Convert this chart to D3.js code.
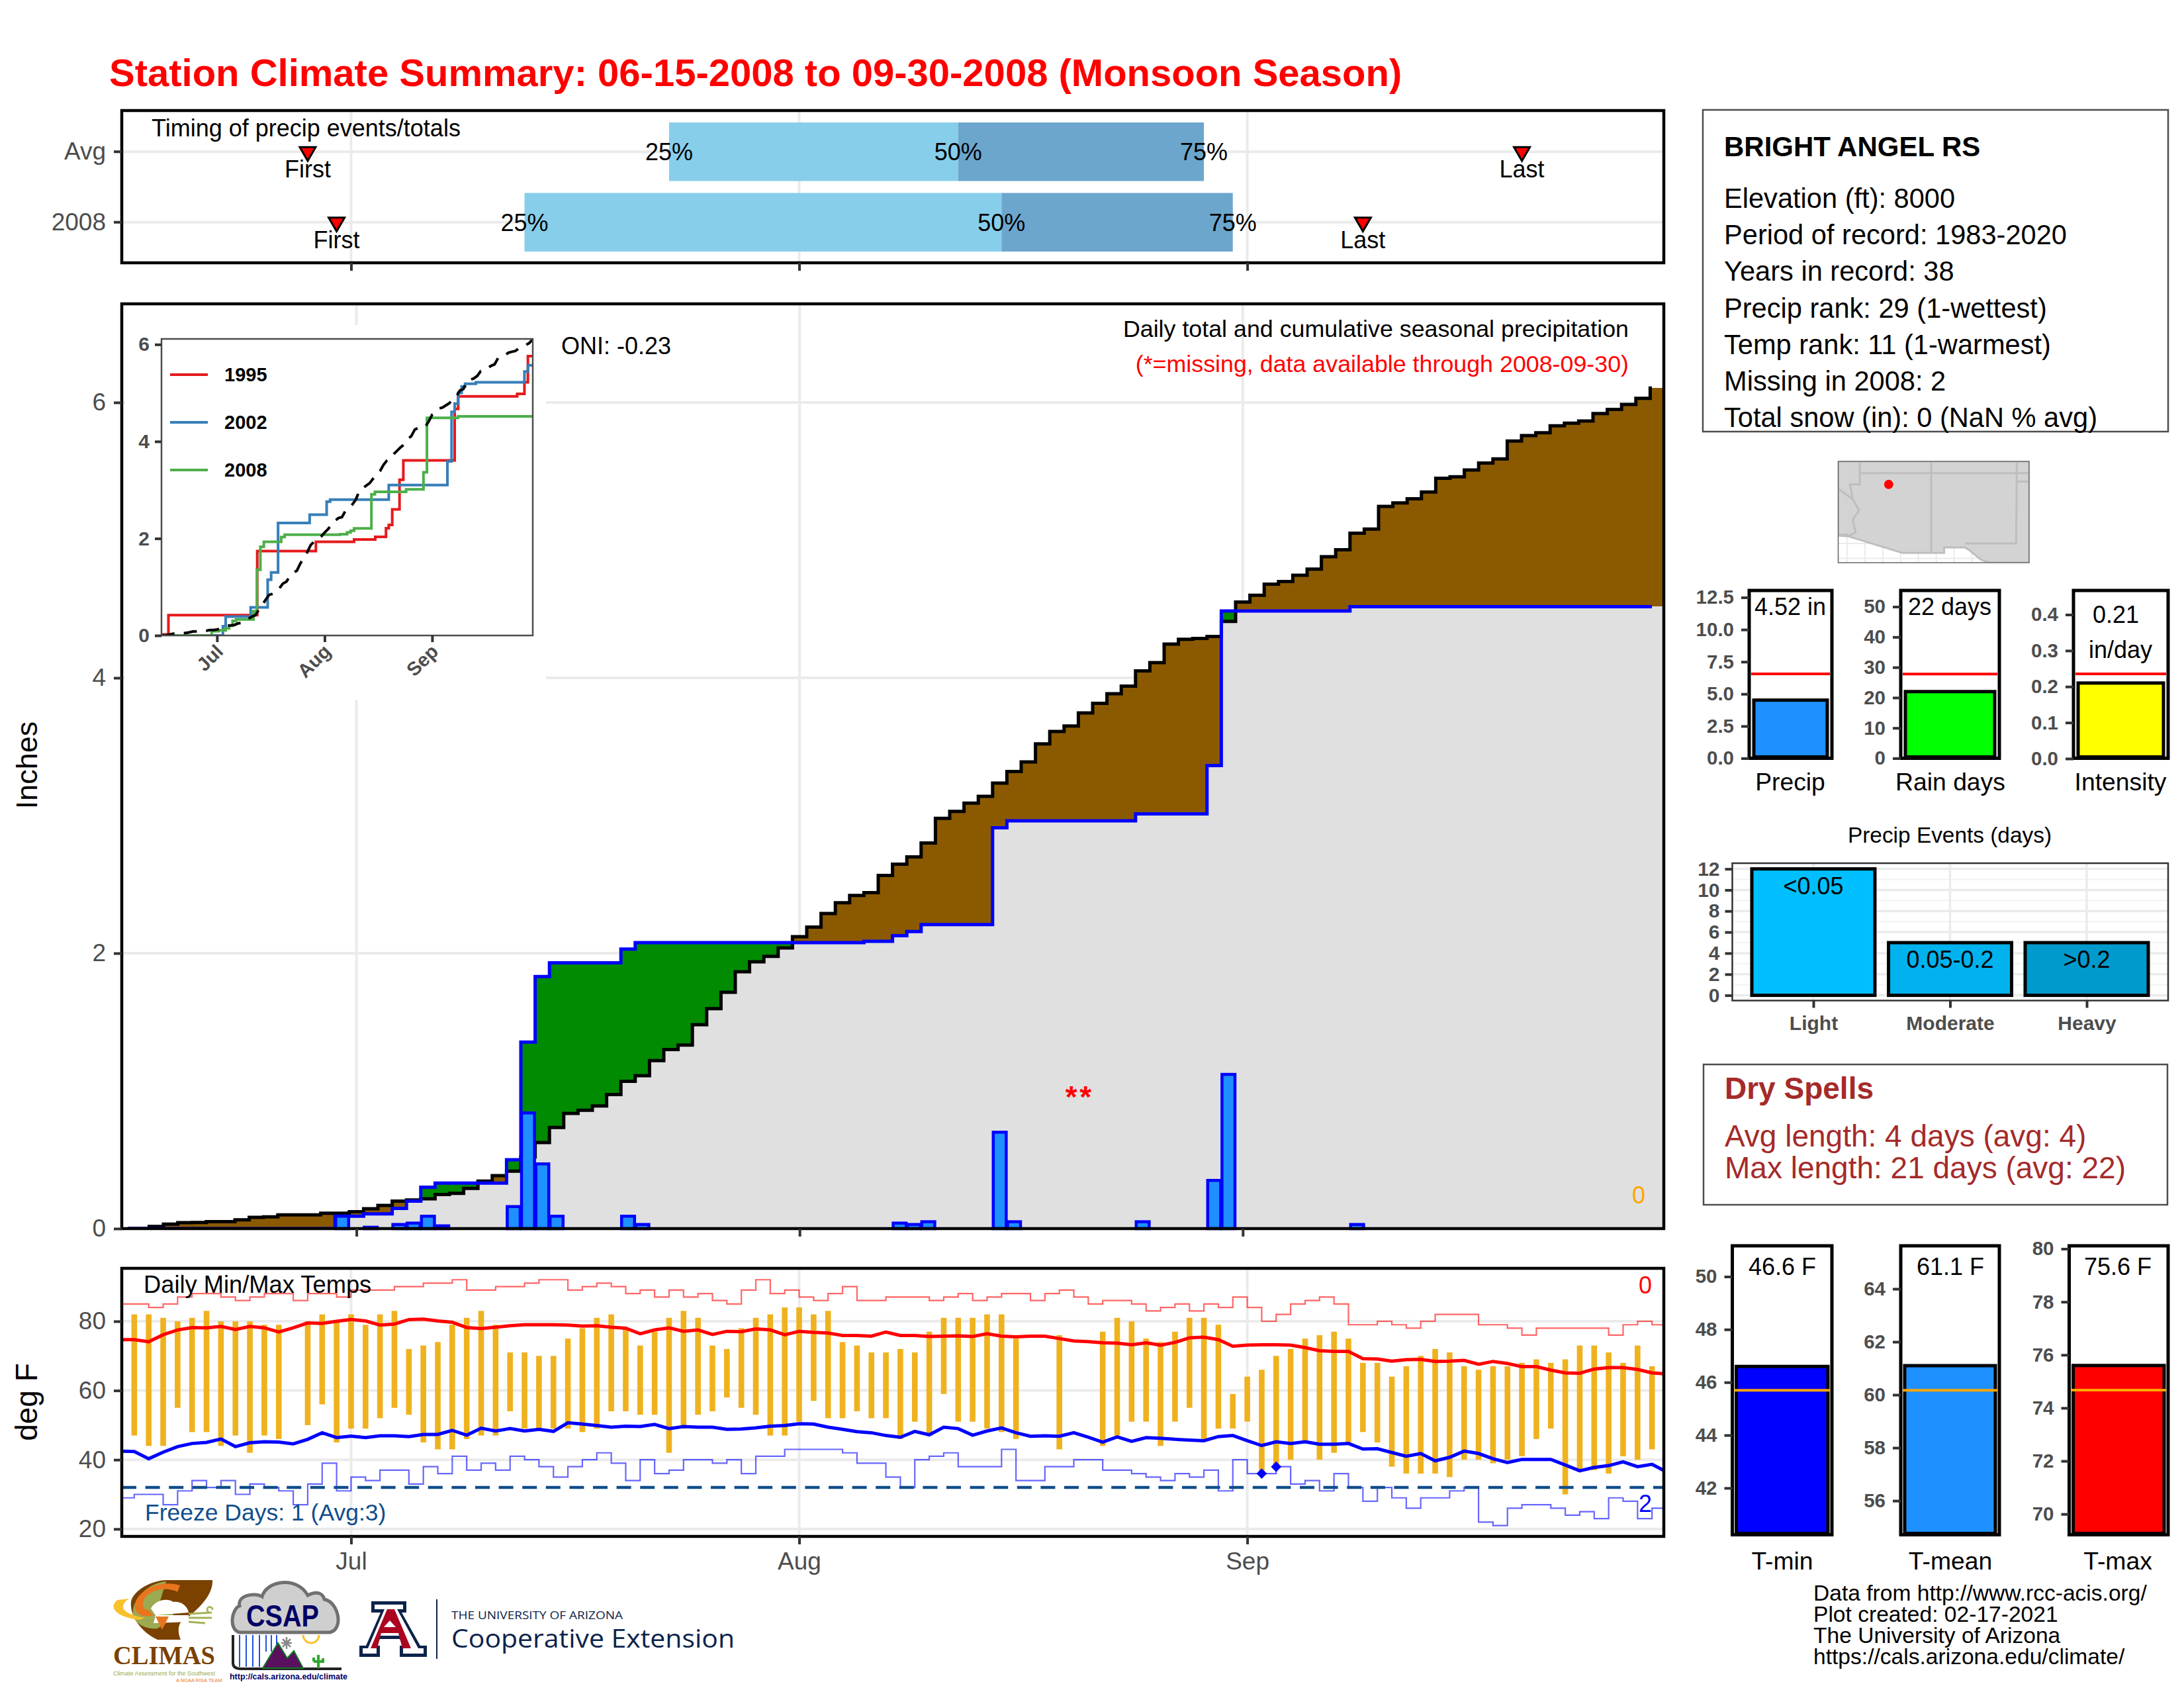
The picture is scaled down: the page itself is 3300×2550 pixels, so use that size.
<!DOCTYPE html>
<html><head><meta charset="utf-8">
<script src="https://cdnjs.cloudflare.com/ajax/libs/d3/7.8.5/d3.min.js"></script>
<style>html,body{margin:0;padding:0;background:#fff}svg{display:block}text{font-family:"Liberation Sans",Arial,sans-serif}</style>
</head><body>
<script>
// ---------- DATA (day index 0 = Jun 15, 16 = Jul 1, 47 = Aug 1, 78 = Sep 1, 107 = Sep 30) ----------
const monthLabels = ["Jul","Aug","Sep"];
const monthIdx = [16,47,78];
const cumAvg = [0,0,.016,.032,.043,.045,.05,.05,.064,.082,.085,.10,.10,.10,.112,.112,.123,.144,.168,.20,.208,.216,.248,.256,.292,.345,.385,.417,.52,.625,.734,.837,.859,.891,.974,1.07,1.11,1.22,1.30,1.333,1.481,1.597,1.716,1.865,1.937,1.977,2.038,2.12,2.19,2.288,2.366,2.42,2.44,2.565,2.647,2.70,2.80,2.98,3.03,3.09,3.14,3.235,3.32,3.39,3.52,3.61,3.65,3.745,3.815,3.885,3.94,4.05,4.11,4.245,4.28,4.286,4.30,4.41,4.55,4.60,4.68,4.70,4.745,4.79,4.88,4.93,5.05,5.08,5.245,5.27,5.30,5.35,5.45,5.46,5.51,5.56,5.59,5.72,5.76,5.78,5.83,5.85,5.865,5.92,5.95,5.985,6.03,6.105];
const cum2008 = [0,0,0,0,0,0,0,0,0,0,0,0,0,0,0,.09,.09,.107,.107,.147,.20,.30,.33,.33,.33,.33,.33,.50,1.354,1.83,1.93,1.93,1.93,1.93,1.93,2.03,2.077,2.077,2.077,2.077,2.077,2.077,2.077,2.077,2.077,2.077,2.077,2.077,2.077,2.077,2.077,2.077,2.087,2.087,2.127,2.158,2.208,2.208,2.208,2.208,2.208,2.911,2.962,2.962,2.962,2.962,2.962,2.962,2.962,2.962,2.962,3.012,3.012,3.012,3.012,3.012,3.363,4.485,4.485,4.485,4.485,4.485,4.485,4.485,4.485,4.485,4.517,4.517,4.517,4.517,4.517,4.517,4.517,4.517,4.517,4.517,4.517,4.517,4.517,4.517,4.517,4.517,4.517,4.517,4.517,4.517,4.517,4.517];
const rainDays = [15,17,19,20,21,22,27,28,29,30,35,36,54,55,56,61,62,71,76,77,86];
const rainVals = [.09,.01,.03,.04,.09,.02,.16,.84,.47,.09,.09,.03,.04,.03,.05,.70,.05,.05,.35,1.12,.03];
const missingDays = [66,67];
const inset1995Days = [0,1,2,27.6,44.5,55.5,61.6,64.7,65.5,66.5,68.6,69.7,84.5,85.5,102.5,104.6,105.6,107];
const inset1995Vals = [.02,.02,.42,1.74,1.93,1.98,2.035,2.21,2.28,2.6,3.21,3.61,4.67,4.93,4.98,5.22,5.76,5.76];
const inset2002Days = [0,17.7,18.5,25.7,30.6,31.6,33.6,42.7,47.6,48.6,65.5,82.4,83.6,84.5,85.5,86.5,87.5,90.6,104.6,105.6,107];
const inset2002Vals = [0,.19,.39,.58,1.15,1.30,2.32,2.49,2.76,2.8,3.10,3.59,4.61,4.78,5.0,5.13,5.19,5.22,5.44,5.57,5.57];
const legendYears = ["1995","2002","2008"];
const tmaxObs = [null,82,82,81,80,81,83,80,80,80, 79,79,null,80,82,80,82,79,82,83, 72,73,74,79,81,83,79,71,71,70, 70,75,78,81,82,78,73,77,81,83, 81,73,72,78,81,82,84,84,82,83, 74,73,71,71,72,71,77,81,81,81, 82,82,75,null,null,76,null,null,77,81, 80,75,74,77,81,81,79,59,64,66, 70,72,75,76,77,75,68,68,64,67, 70,72,71,67,66,67,67,68,69,68, 69,73,73,71,68,73,67,null];
const tminObs = [null,47,44,44,55,48,48,44,47,42, 47,46,null,50,56,45,49,49,52,55, 53,45,43,43,46,47,47,54,49,49, 49,49,48,49,54,54,53,53,42,49, 53,54,58,55,53,47,47,51,57,52, 52,54,52,52,46,51,47,59,51,51, 49,48,46,null,null,43,null,null,44,47, 51,51,44,51,55,46,49,49,51,36, 38,40,45,40,42,45,48,45,38,36, 36,36,35,40,40,39,40,41,46,49, 30,37,37,36,41,40,43,null];
const recHigh = [85,85,84,85,87,88,88,87,86,87, 88,88,86,88,88,87,89,89,89,90, 90,91,91,92,89,89,90,90,91,92, 92,89,90,91,90,88,89,87,89,87, 88,86,85,89,92,88,89,87,86,88, 90,86,86,87,87,87,86,87,88,86, 87,88,88,86,88,89,87,85,86,86, 85,83,84,85,83,85,84,87,84,80, 82,85,86,87,85,79,79,80,79,78, 80,82,82,82,79,79,78,76,78,78, 78,78,78,76,79,80,79,79];
const recLow = [29,30,30,27,31,34,32,34,30,33, 32,31,27,33,39,31,35,34,37,37, 33,38,36,41,37,39,37,41,40,38, 35,38,40,42,39,34,40,36,37,40, 40,39,40,36,41,41,43,43,43,43, 42,39,39,35,32,40,41,42,38,38, 38,43,34,34,38,38,40,40,37,37, 36,35,34,36,35,37,31,40,36,36, 38,33,34,31,36,32,28,32,29,26, 29,29,31,32,22,21,26,27,27,26, 24,25,23,29,28,23,26,26];
const avgHigh = [74.7,74.7,74.1,76.1,77.5,78.2,78.1,78.5,77.6,78.5, 78.1,76.9,78.1,79.5,79.4,80,80.5,80.1,78.9,79.2, 80.5,80.6,80.1,79.7,78.2,77.9,78.3,78.7,79,79, 79,78.9,78.6,78.7,78.3,78,76.4,77.5,78.1,77.1, 77.5,76.2,77.1,77,77.8,77.5,76.1,77.1,76.8,76.6, 75.9,75.9,75.7,76.9,75.9,75.9,75.6,75.7,75.8,75.6, 76.4,75.7,75.5,75.7,75.7,75,74.3,74.1,73.8,73.7, 73.2,73.8,73.1,73.9,75.2,75.4,74.7,72.8,73.1,73.2, 73.2,73.1,72.4,71.5,71.3,71.3,69.2,69.1,68.5,68.9, 69,68.4,68.5,68.7,67.6,68.4,67.8,66.9,66.9,65.9, 65.1,65,66.2,66.6,66.6,66.1,65.1,64.8];
const avgLow = [42.5,42.4,40.3,42.2,43.8,44.7,45,46,43.8,44.9, 45.2,45.1,44.6,45.9,47.8,46.4,46.8,46.4,46.9,46.9, 46.7,47.3,47.3,48.5,47.1,49.1,48.3,49,48.3,48.8, 48.2,50.7,50.3,49.9,49.4,49.7,49.6,50.2,49,49.6, 49.4,49.4,48.8,48.9,49.2,49.7,49.9,50.4,50.3,49.4, 48.8,48.1,47.8,47,46.5,48.2,47.2,49.4,49,47.1, 48.3,49.2,47.8,46.8,46.9,46.8,47.8,46.5,45.1,46.6, 45.3,46.4,46.2,45.9,45.7,45.5,46.7,47,45.5,44.1, 45.2,44.7,45.2,44.5,44.5,44.7,43.1,43.2,42.1,41, 41.8,39.7,40.7,42.5,41.8,40.3,39.2,40.1,40.1,40.1, 38.5,36.8,37.8,38.3,39.4,38,38.7,36.5];
const freezeDays = [79,80];
const freezeVals = [36,38];
const timingRows = ["Avg","2008"];
const timingQuart = [[38,58,75],[28,61,77]];
const timingFirst = [13,15];
const timingLast = [97,86];
const quartLabels = ["25%","50%","75%"];
const infoLines = ["Elevation (ft): 8000","Period of record: 1983-2020","Years in record: 38","Precip rank: 29 (1-wettest)","Temp rank: 11 (1-warmest)","Missing in 2008: 2","Total snow (in): 0 (NaN % avg)"];
const eventCats = ["Light","Moderate","Heavy"];
const eventVals = [12,5,5];
const eventText = ["<0.05","0.05-0.2",">0.2"];
const eventColors = ["#00BFFF","#00B2EE","#009ACD"];
const footerLines = ["Data from http://www.rcc-acis.org/","Plot created: 02-17-2021","The University of Arizona","https://cals.arizona.edu/climate/"];
// map outline, lon/lat
const landLon = [-115.63,-102.13,-102.13,-104.97,-105.54,-106.33,-106.67,-108.14,-108.14,-111.09,-114.9,-115.63];
const landLat = [37.84,37.84,30.64,30.64,30.85,31.51,31.72,31.72,31.33,31.33,32.51,32.57];
const borderLon = [[-109.05,-109.05],[-114.1,-102.13],[-103.0,-103.05,-106.67],[-103,-102.13],[-114.1,-114.1,-114.8,-114.6,-114.15,-114.6,-114.4,-114.9],[-115.63,-114.6],[-115.63,-114.9]];
const borderLat = [[37.84,31.33],[37,37],[37.84,32,32],[36.4,36.4],[37.84,36.2,36.2,35.15,34.35,33.7,32.8,32.51],[35.9,35.15],[32.6,32.65]];
const stationLonLat = [-112.06,36.2];

// ---------- SETUP ----------
const W=3300,H=2550, GRID="#EBEBEB", TICK="#333333", TXT="#4D4D4D";
const svg=d3.select("body").append("svg").attr("width",W).attr("height",H).attr("viewBox",`0 0 ${W} ${H}`);
svg.append("rect").attr("width",W).attr("height",H).attr("fill","#fff");
const defs=svg.append("defs");
let clipN=0;
function clip(x,y,w,h){const id="c"+(++clipN);defs.append("clipPath").attr("id",id).append("rect").attr("x",x).attr("y",y).attr("width",w).attr("height",h);return `url(#${id})`;}
function T(g,x,y,s,o={}){const t=g.append("text").attr("x",x).attr("y",y).text(s).attr("font-size",o.size||35).attr("fill",o.fill||"#000").attr("text-anchor",o.anchor||"start");
  if(o.bold)t.attr("font-weight","bold"); if(o.rot!=null)t.attr("transform",`rotate(${o.rot} ${x} ${y})`); if(o.family)t.style("font-family",o.family); return t;}
function styleAxis(g,size,bold,tw){g.select(".domain").remove();g.selectAll(".tick line").attr("stroke",TICK).attr("stroke-width",tw||4);
  g.selectAll(".tick text").attr("fill",TXT).attr("font-size",size).attr("font-weight",bold?"bold":"normal");}
function hline(g,y,x0,x1,c,w){return g.append("line").attr("x1",x0).attr("x2",x1).attr("y1",y).attr("y2",y).attr("stroke",c).attr("stroke-width",w);}
function vline(g,x,y0,y1,c,w){return g.append("line").attr("x1",x).attr("x2",x).attr("y1",y0).attr("y2",y1).attr("stroke",c).attr("stroke-width",w);}
function frame(g,x0,y0,x1,y1,c,w){g.append("rect").attr("x",x0).attr("y",y0).attr("width",x1-x0).attr("height",y1-y0).attr("fill","none").attr("stroke",c).attr("stroke-width",w);}
const L=184,R=2514;

// ---------- TITLE ----------
T(svg,165,130,"Station Climate Summary: 06-15-2008 to 09-30-2008 (Monsoon Season)",{size:58,bold:true,fill:"#FF0000"});

// ---------- TIMING PANEL ----------
{
 const top=167,bot=397;
 const x=d3.scaleLinear().domain([0,107]).range([181,2518]);
 const y=d3.scaleBand().domain(timingRows).range([185,380]).paddingInner(.169).paddingOuter(0);
 const g=svg.append("g");
 const rowC=d=>y(d)+y.bandwidth()/2;
 monthIdx.forEach(i=>vline(g,x(i),top,bot,GRID,4));
 timingRows.forEach(r=>hline(g,rowC(r),L,R,GRID,4));
 timingRows.forEach((r,k)=>{
   const q=timingQuart[k], yy=y(r);
   g.append("rect").attr("x",x(q[0])).attr("y",yy).attr("width",x(q[1])-x(q[0])).attr("height",y.bandwidth()).attr("fill","#87CEEB");
   g.append("rect").attr("x",x(q[1])).attr("y",yy).attr("width",x(q[2])-x(q[1])).attr("height",y.bandwidth()).attr("fill","#6CA6CD");
   q.forEach((v,j)=>T(g,x(v),rowC(r)+13,quartLabels[j],{size:36,anchor:"middle"}));
   [timingFirst[k],timingLast[k]].forEach((d,j)=>{
     g.append("path").attr("d",d3.symbol(d3.symbolTriangle,250)()).attr("transform",`translate(${x(d)},${rowC(r)}) rotate(180)`).attr("fill","#FF0000").attr("stroke","#000").attr("stroke-width",3);
     T(g,x(d),rowC(r)+39,j?"Last":"First",{size:36,anchor:"middle"});
   });
 });
 T(g,229,206,"Timing of precip events/totals",{size:36});
 frame(g,L,top,R,bot,"#000",4.5);
 const ax=svg.append("g").attr("transform",`translate(${L},0)`).call(d3.axisLeft(y).tickSize(12).tickPadding(12));
 styleAxis(ax,37);
 const bx=svg.append("g").attr("transform",`translate(0,${bot})`).call(d3.axisBottom(x).tickValues(monthIdx).tickSize(12).tickFormat(""));
 styleAxis(bx,37);
}

// ---------- MAIN PRECIP PANEL ----------
{
 const top=459,bot=1856;
 const x=d3.scaleLinear().domain([0,107]).range([193,2504.2]);
 const y=d3.scaleLinear().domain([0,(bot-top)/208]).range([bot,top]);
 const g=svg.append("g");
 monthIdx.forEach(i=>vline(g,x(i),top,bot,GRID,4));
 [0,2,4,6].forEach(v=>hline(g,y(v),L,R,GRID,4));
 const cp=clip(L,top,R-L,bot-top);
 const days=d3.range(108);
 const fills=g.append("g").attr("clip-path",cp).attr("shape-rendering","crispEdges");
 const dw=x(1)-x(0);
 fills.selectAll(".gr").data(days).join("rect").attr("x",i=>x(i)-dw/2).attr("width",dw+.5)
   .attr("y",i=>y(Math.min(cum2008[i],cumAvg[i]))).attr("height",i=>bot-y(Math.min(cum2008[i],cumAvg[i]))).attr("fill","#E0E0E0");
 fills.selectAll(".df").data(days).join("rect").attr("x",i=>x(i)-dw/2).attr("width",dw+.5)
   .attr("y",i=>y(Math.max(cum2008[i],cumAvg[i]))).attr("height",i=>Math.abs(y(cum2008[i])-y(cumAvg[i])))
   .attr("fill",i=>cum2008[i]>cumAvg[i]?"#008B00":"#8B5A00");
 const line=d3.line().x(i=>x(i)).curve(d3.curveStep);
 const lc=clip(L,top,x(106.5)+2.5-L,bot-top);
 g.append("path").attr("clip-path",lc).attr("d",line.y(i=>y(cumAvg[i]))(days)).attr("fill","none").attr("stroke","#000").attr("stroke-width",5);
 g.append("path").attr("clip-path",lc).attr("d",line.y(i=>y(cum2008[i]))(days)).attr("fill","none").attr("stroke","#0000FF").attr("stroke-width",5);
 g.selectAll(".bar").data(rainDays).join("rect").attr("x",d=>x(d)-dw/2+1).attr("width",dw-2)
   .attr("y",(d,k)=>y(rainVals[k])).attr("height",(d,k)=>bot-y(rainVals[k])).attr("fill","#1E90FF").attr("stroke","#0000FF").attr("stroke-width",4.5);
 missingDays.forEach(d=>T(g,x(d),y(1)+25,"*",{size:46,fill:"#FF0000",anchor:"middle",bold:true}));
 T(g,2476,1818,"0",{size:36,fill:"#FFA500",anchor:"middle"});
 T(g,848,535,"ONI: -0.23",{size:36});
 T(g,2461,509,"Daily total and cumulative seasonal precipitation",{size:35.8,anchor:"end"});
 T(g,2461,562,"(*=missing, data available through 2008-09-30)",{size:35.8,anchor:"end",fill:"#FF0000"});
 frame(g,L,top,R,bot,"#000",4.5);
 const ax=svg.append("g").attr("transform",`translate(${L},0)`).call(d3.axisLeft(y).tickValues([0,2,4,6]).tickSize(12).tickPadding(12).tickFormat(d3.format("d")));
 styleAxis(ax,37);
 const bx=svg.append("g").attr("transform",`translate(0,${bot})`).call(d3.axisBottom(x).tickValues(monthIdx).tickSize(12).tickFormat(""));
 styleAxis(bx,37);
 T(svg,56,1156,"Inches",{size:45,anchor:"middle",rot:-90});

 // inset
 const ig=svg.append("g");
 ig.append("rect").attr("x",189).attr("y",491).attr("width",636).attr("height",566).attr("fill","#fff");
 const ix=d3.scaleLinear().domain([0,107]).range([244,805]);
 const iy=d3.scaleLinear().domain([0,6.1]).range([960,513]);
 const icp=clip(244,512,561,448);
 const after=d3.line().curve(d3.curveStepAfter);
 const mk=(ds,vs)=>after(ds.map((d,k)=>[ix(d),iy(vs[k])]));
 ig.append("path").attr("clip-path",icp).attr("d",mk(inset1995Days,inset1995Vals)).attr("fill","none").attr("stroke","#E41A1C").attr("stroke-width",4);
 ig.append("path").attr("clip-path",icp).attr("d",mk(inset2002Days,inset2002Vals)).attr("fill","none").attr("stroke","#377EB8").attr("stroke-width",4);
 ig.append("path").attr("clip-path",icp).attr("d",d3.line().x(i=>ix(i)).y(i=>iy(cum2008[i])).curve(d3.curveStep)(days)).attr("fill","none").attr("stroke","#4DAF4A").attr("stroke-width",4);
 ig.append("path").attr("clip-path",icp).attr("d",d3.line().x(i=>ix(i)).y(i=>iy(cumAvg[i]))(days)).attr("fill","none").attr("stroke","#000").attr("stroke-width",4).attr("stroke-dasharray","20,14");
 frame(ig,244,512,805,960,"#4D4D4D",2.5);
 const lc2=["#E41A1C","#377EB8","#4DAF4A"], ly=[566,638,710];
 legendYears.forEach((t,k)=>{hline(ig,ly[k],257,314,lc2[k],4);T(ig,339,ly[k]+10,t,{size:29,bold:true});});
 const iax=ig.append("g").attr("transform","translate(244,0)").call(d3.axisLeft(iy).tickValues([0,2,4,6]).tickSize(10).tickPadding(8).tickFormat(d3.format("d")));
 styleAxis(iax,30,true);
 const ibx=ig.append("g").attr("transform","translate(0,960)").call(d3.axisBottom(ix).tickValues(monthIdx).tickSize(10).tickFormat(""));
 styleAxis(ibx,30,true);
 monthIdx.forEach((m,k)=>T(ig,ix(m)+11,986,monthLabels[k],{size:29,bold:true,fill:TXT,anchor:"end",rot:-45}));
}

// ---------- TEMPERATURE PANEL ----------
{
 const top=1916,bot=2321;
 const x=d3.scaleLinear().domain([0,107]).range([181,2518]);
 const y=d3.scaleLinear().domain([80-(bot-1996)/5.23,80+(1996-top)/5.23]).range([bot,top]);
 const g=svg.append("g");
 monthIdx.forEach(i=>vline(g,x(i),top,bot,GRID,4));
 [20,40,60,80].forEach(v=>hline(g,y(v),L,R,GRID,4));
 const cp=clip(L,top,R-L,bot-top);
 const days=d3.range(108), cl=g.append("g").attr("clip-path",cp);
 const after=d3.line().x(i=>x(i)).curve(d3.curveStepAfter);
 cl.append("path").attr("d",after.y(i=>y(recHigh[i]))(days)).attr("fill","none").attr("stroke","#FF0000").attr("stroke-opacity",.6).attr("stroke-width",2.2);
 cl.append("path").attr("d",after.y(i=>y(recLow[i]))(days)).attr("fill","none").attr("stroke","#0000FF").attr("stroke-opacity",.6).attr("stroke-width",2.2);
 const barDays=days.filter(i=>tmaxObs[i]!=null);
 cl.selectAll(".tb").data(barDays).join("rect").attr("x",i=>x(i)-4.3).attr("width",8.6).attr("y",i=>y(tmaxObs[i])).attr("height",i=>y(tminObs[i])-y(tmaxObs[i])).attr("fill","#EFB21F");
 hline(cl,y(32),L,R,"#104E8B",4.5).attr("stroke-dasharray","22,13.6");
 const ln=d3.line().x(i=>x(i));
 cl.append("path").attr("d",ln.y(i=>y(avgHigh[i]))(days)).attr("fill","none").attr("stroke","#FF0000").attr("stroke-width",5);
 cl.append("path").attr("d",ln.y(i=>y(avgLow[i]))(days)).attr("fill","none").attr("stroke","#0000FF").attr("stroke-width",5);
 cl.selectAll(".fd").data(freezeDays).join("path").attr("d",d3.symbol(d3.symbolDiamond,150)()).attr("transform",(d,k)=>`translate(${x(d)},${y(freezeVals[k])}) scale(1.2,.7)`).attr("fill","#0000FF");
 T(g,217,1953,"Daily Min/Max Temps",{size:36.3});
 T(g,219,2297,"Freeze Days: 1 (Avg:3)",{size:35.5,fill:"#104E8B"});
 T(g,2486,1954,"0",{size:36,fill:"#FF0000",anchor:"middle"});
 T(g,2486,2284,"2",{size:36,fill:"#0000FF",anchor:"middle"});
 frame(g,L,top,R,bot,"#000",4.5);
 const ax=svg.append("g").attr("transform",`translate(${L},0)`).call(d3.axisLeft(y).tickValues([20,40,60,80]).tickSize(12).tickPadding(12));
 styleAxis(ax,37);
 const bx=svg.append("g").attr("transform",`translate(0,${bot})`).call(d3.axisBottom(x).tickValues(monthIdx).tickSize(12).tickPadding(12).tickFormat((d,k)=>monthLabels[k]));
 styleAxis(bx,37);
 T(svg,56,2118,"deg F",{size:46,anchor:"middle",rot:-90});
}

// ---------- INFO BOX ----------
{
 const g=svg.append("g");
 g.append("rect").attr("x",2573).attr("y",166).attr("width",703).attr("height",486).attr("fill","#fff").attr("stroke","#4D4D4D").attr("stroke-width",2.5);
 T(g,2605,236,"BRIGHT ANGEL RS",{size:42,bold:true});
 infoLines.forEach((s,k)=>T(g,2605,314+k*55.2,s,{size:41.6}));
}

// ---------- MAP ----------
{
 const g=svg.append("g"), x0=2777.5,x1=3066,y0=697,y1=850;
 const mx=d3.scaleLinear().domain([-115.63,-102.13]).range([x0,x1]);
 const my=d3.scaleLinear().domain([37.84,30.64]).range([y0,y1]);
 const cp=clip(x0,y0,x1-x0,y1-y0);
 const m=g.append("g").attr("clip-path",cp);
 m.append("rect").attr("x",x0).attr("y",y0).attr("width",x1-x0).attr("height",y1-y0).attr("fill","#fff");
 d3.range(-115.0,-102,1.26).forEach(l=>vline(m,mx(l),y0,y1,"#EBEBEB",2));
 [30.95,32.0].forEach(l=>hline(m,my(l),x0,x1,"#EBEBEB",2));
 m.append("path").attr("d",d3.line()(landLon.map((l,k)=>[mx(l),my(landLat[k])]))+"Z").attr("fill","#D3D3D3").attr("stroke","#BEBEBE").attr("stroke-width",3);
 borderLon.forEach((b,k)=>m.append("path").attr("d",d3.line()(b.map((l,j)=>[mx(l),my(borderLat[k][j])]))).attr("fill","none").attr("stroke","#BEBEBE").attr("stroke-width",3));
 g.append("circle").attr("cx",mx(stationLonLat[0])).attr("cy",my(stationLonLat[1])).attr("r",7).attr("fill","#FF0000");
 frame(g,x0,y0,x1,y1,"#666",1.5);
}

// ---------- SMALL BAR PANELS ----------
function smallBar(o){
 const g=svg.append("g");
 const y=d3.scaleLinear().domain(o.domain).range(o.range.map(v=>v+1.5));
 const top=o.top+1,bot=o.bot+1.5;
 g.append("rect").attr("x",o.x0).attr("y",top).attr("width",o.x1-o.x0).attr("height",bot-top).attr("fill","#fff");
 g.append("rect").attr("x",o.x0+o.inset).attr("y",y(o.value)).attr("width",o.x1-o.x0-2*o.inset).attr("height",bot-y(o.value)-2).attr("fill",o.fill).attr("stroke","#000").attr("stroke-width",o.bw||5);
 frame(g,o.x0,top,o.x1,bot,"#000",5);
 hline(g,y(o.ref),o.x0+3,o.x1-3,o.refColor,4);
 const a=g.append("g").attr("transform",`translate(${o.x0},0)`).call(d3.axisLeft(y).tickValues(o.ticks).tickSize(12).tickPadding(11).tickFormat(o.fmt));
 styleAxis(a,29.5,true);
 o.texts.forEach(t=>T(g,t[0],t[1]+2,t[2],{size:36,anchor:"middle"}));
 T(g,o.labelX,o.labelY,o.label,{size:37.3,anchor:"middle"});
}
const barTop=891,barBot=1144;
smallBar({x0:2643,x1:2768,top:barTop,bot:barBot,inset:7,domain:[0,12.5],range:[1144,901],value:4.52,ref:6.56,refColor:"#FF0000",fill:"#1E90FF",ticks:[0,2.5,5,7.5,10,12.5],fmt:d3.format(".1f"),texts:[[2705,927,"4.52 in"]],labelX:2705,labelY:1194,label:"Precip"});
smallBar({x0:2872,x1:3021,top:barTop,bot:barBot,inset:7,domain:[0,50],range:[1144,915],value:22,ref:27.8,refColor:"#FF0000",fill:"#00FF00",ticks:[0,10,20,30,40,50],fmt:d3.format("d"),texts:[[2946,927,"22 days"]],labelX:2947,labelY:1194,label:"Rain days"});
smallBar({x0:3133,x1:3276,top:barTop,bot:barBot,inset:7,domain:[0,.4],range:[1144.5,927],value:.21,ref:.2355,refColor:"#FF0000",fill:"#FFFF00",ticks:[0,.1,.2,.3,.4],fmt:d3.format(".1f"),texts:[[3197,939,"0.21"],[3204,992,"in/day"]],labelX:3204,labelY:1194,label:"Intensity"});
const tTop=1881,tBot=2317;
smallBar({x0:2617.5,x1:2768,top:tTop,bot:tBot,inset:6,domain:[42,50],range:[2246.4,1927],value:46.6,ref:45.7,refColor:"#FFA500",fill:"#0000FF",ticks:[42,44,46,48,50],fmt:d3.format("d"),texts:[[2693,1924,"46.6 F"]],labelX:2693,labelY:2371,label:"T-min"});
smallBar({x0:2872,x1:3021,top:tTop,bot:tBot,inset:6,domain:[56,64],range:[2265.6,1945.5],value:61.1,ref:60.17,refColor:"#FFA500",fill:"#1E90FF",ticks:[56,58,60,62,64],fmt:d3.format("d"),texts:[[2947,1924,"61.1 F"]],labelX:2947,labelY:2371,label:"T-mean"});
smallBar({x0:3126.5,x1:3276,top:tTop,bot:tBot,inset:6,domain:[70,80],range:[2285.7,1885],value:75.6,ref:74.67,refColor:"#FFA500",fill:"#FF0000",ticks:[70,72,74,76,78,80],fmt:d3.format("d"),texts:[[3200,1924,"75.6 F"]],labelX:3200,labelY:2371,label:"T-max"});

// ---------- PRECIP EVENTS ----------
{
 const g=svg.append("g"), l=2617.5,r=3276,top=1304,bot=1511.5;
 const y=d3.scaleLinear().domain([0,12]).range([1503.6,1312.6]);
 const x=d3.scalePoint().domain(eventCats).range([2740,3153]);
 d3.range(1,13,2).forEach(v=>hline(g,y(v),l,r,"#F2F2F2",2));
 d3.range(0,13,2).forEach(v=>hline(g,y(v),l,r,GRID,3.5));
 eventCats.forEach(c=>vline(g,x(c),top,bot,GRID,3.5));
 eventCats.forEach((c,k)=>{
   g.append("rect").attr("x",x(c)-93).attr("y",y(eventVals[k])).attr("width",186).attr("height",y(0)-y(eventVals[k])).attr("fill",eventColors[k]).attr("stroke","#000").attr("stroke-width",5);
   T(g,x(c),y(eventVals[k])+38,eventText[k],{size:36,anchor:"middle"});
 });
 frame(g,l,top,r,bot,"#333",2.5);
 T(g,2946,1273,"Precip Events (days)",{size:33.4,anchor:"middle"});
 const a=g.append("g").attr("transform",`translate(${l},0)`).call(d3.axisLeft(y).tickValues(d3.range(0,13,2)).tickSize(11).tickPadding(8));
 styleAxis(a,30,true);
 const b=g.append("g").attr("transform",`translate(0,${bot})`).call(d3.axisBottom(x).tickSize(11).tickPadding(12));
 styleAxis(b,30,true);
}

// ---------- DRY SPELLS ----------
{
 const g=svg.append("g");
 g.append("rect").attr("x",2574).attr("y",1608).attr("width",701).attr("height",212).attr("fill","#fff").attr("stroke","#4D4D4D").attr("stroke-width",2.5);
 T(g,2606,1660,"Dry Spells",{size:46,bold:true,fill:"#A52A2A"});
 T(g,2606,1732,"Avg length: 4 days (avg: 4)",{size:46,fill:"#A52A2A"});
 T(g,2606,1780,"Max length: 21 days (avg: 22)",{size:46,fill:"#A52A2A"});
}

// ---------- FOOTER ----------
{
 const g=svg.append("g");
 footerLines.forEach((s,k)=>T(g,2740,2418+k*31.9,s,{size:33.6}));
}

// ---------- LOGOS ----------
{
 const g=svg.append("g");
 const P=(d,f,s,w)=>g.append("path").attr("d",d).attr("fill",f||"none").attr("stroke",s||"none").attr("stroke-width",w||0);
 // CLIMAS
 P("M251,2387 L321,2387 C322,2410 300,2432 272,2452 C268,2462 270,2470 273,2477 L238,2477 C212,2465 196,2440 198,2420 C200,2405 225,2388 251,2387Z","#7A4100");
 P("M251,2389 C220,2392 198,2420 201,2440 C204,2455 225,2462 238,2460 L262,2445 L262,2425 L240,2425 Z","#9CAA50");
 P("M272,2395 C240,2385 205,2405 204,2425 C203,2438 215,2445 232,2440 L224,2432 C212,2432 214,2415 225,2408 C240,2398 260,2400 268,2405Z","#E8751E");
 P("M228,2430 C232,2420 250,2412 262,2420 C275,2418 284,2428 285,2436 L235,2440Z","#fff");
 P("M235,2440 L285,2440 L285,2450 L232,2452Z","#fff");
 P("M178,2417 C165,2425 170,2442 210,2447 L220,2444 C190,2440 175,2428 195,2415Z","#F9C12B");
 P("M235,2442 L255,2442 L245,2462 Z","#E8751E");
 P("M285,2438 L320,2436 M285,2444 L320,2444 M285,2450 L310,2452",null,"#A3B355",3);
 P("M315,2435 a4,4 0 1 1 6,-3",null,"#A3B355",2.5);
 T(g,171,2514,"CLIMAS",{size:40,fill:"#7A4100",family:"'Liberation Serif',serif"}).attr("font-weight","bold").attr("textLength",154).attr("lengthAdjust","spacingAndGlyphs");
 T(g,171,2531,"Climate Assessment for the Southwest",{size:9.5,fill:"#9CAA50"}).attr("textLength",154).attr("lengthAdjust","spacingAndGlyphs");
 T(g,266,2541,"A NOAA RISA TEAM",{size:7.5,fill:"#E8751E"});
 // CSAP
 P("M362,2466 C345,2462 350,2430 362,2426 C358,2410 385,2405 396,2412 C402,2388 448,2380 465,2410 C480,2402 488,2408 490,2416 C512,2420 520,2462 498,2466 Z","#CFCFCF","#707070",5);
 T(g,427,2457,"CSAP",{size:46,bold:true,fill:"#000066",anchor:"middle"}).attr("textLength",110).attr("lengthAdjust","spacingAndGlyphs");
 [362,372,382,392,402,410,418].forEach((xx,k)=>vline(g,xx,2470,k<4?2518:2495,"#1E50E0",2));
 P("M352,2470 L352,2512 Q352,2521 364,2521 L516,2521",null,"#222",4);
 P("M397,2520 L420,2482 L434,2505 L444,2494 L458,2520Z","#5B0F5F","#0B7A20",2);
 P("M481,2520 L481,2500 M474,2510 L474,2504 M474,2510 L488,2510 L488,2505",null,"#2FA52F",4);
 P("M458,2470 a12,12 0 0 0 24,0",null,"#F9C12B",3);
 P("M433,2473 L433,2491 M425,2482 L441,2482 M427,2476 L439,2488 M439,2476 L427,2488",null,"#888",2.5);
 T(g,347,2537,"http://cals.arizona.edu/climate",{size:13,bold:true,fill:"#000066"}).attr("textLength",178).attr("lengthAdjust","spacingAndGlyphs");
 // Block A
 P("M561,2419 L614,2419 L614,2436 L607,2436 L635,2486 L645,2486 L645,2503 L604,2503 L604,2486 L609,2486 L604,2476 L574,2476 L569,2486 L574,2486 L574,2503 L543,2503 L543,2486 L553,2486 L575,2436 L561,2436Z","#0C234B");
 P("M566,2424 L609,2424 L609,2431 L600,2431 L632,2490 L640,2490 L640,2498 L609,2498 L609,2490 L613,2490 L607,2471 L571,2471 L565,2490 L569,2490 L569,2498 L548,2498 L548,2490 L556,2490 L581,2431 L566,2431Z","#fff");
 P("M585,2431 L596,2431 L621,2490 L608,2490 L602,2467 L576,2467 L570,2490 L560,2490Z M589,2448 L580,2458 L598,2458Z","#AB0520");
 vline(g,660,2416,2506,"#0C234B",2);
 T(g,682,2446,"THE UNIVERSITY OF ARIZONA",{size:17,fill:"#0C234B",family:"'Open Sans',sans-serif"}).attr("textLength",259).attr("lengthAdjust","spacingAndGlyphs");
 T(g,682,2489,"Cooperative Extension",{size:39,fill:"#0C234B",family:"'Open Sans',sans-serif"}).attr("textLength",428).attr("lengthAdjust","spacingAndGlyphs");
}
</script>
</body></html>
